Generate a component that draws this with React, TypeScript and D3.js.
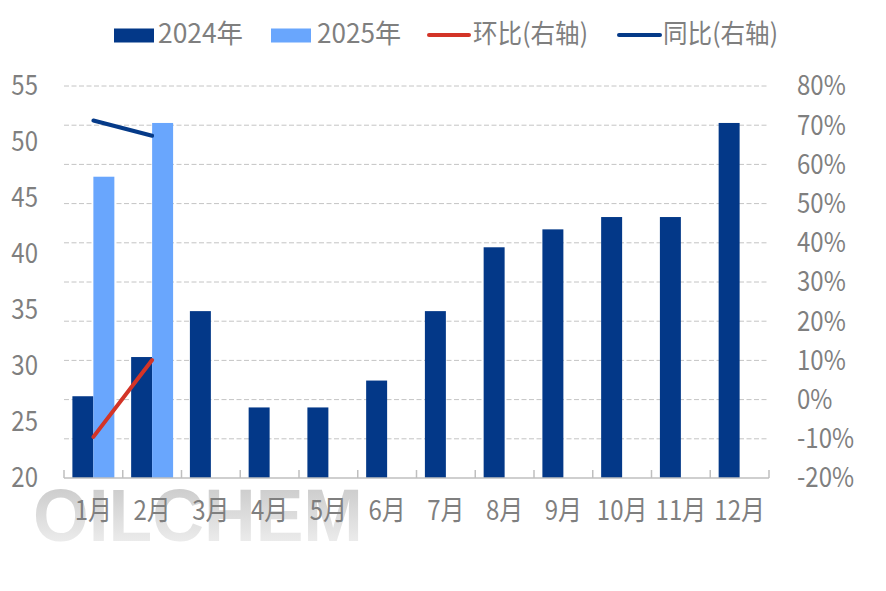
import React from "react";
import * as d3 from "d3";

const months = ["1月","2月","3月","4月","5月","6月","7月","8月","9月","10月","11月","12月"];
const v2024 = [27.3, 30.8, 34.9, 26.3, 26.3, 28.7, 34.9, 40.6, 42.2, 43.3, 43.3, 51.7];
const v2025 = [46.9, 51.7];
const mom = [-9.5, 10.1];
const yoy = [71.2, 67.3];
const leftTicks = [20, 25, 30, 35, 40, 45, 50, 55];
const rightTicks = [-20, -10, 0, 10, 20, 30, 40, 50, 60, 70, 80];
const legendLabels = ["2024年", "2025年", "环比(右轴)", "同比(右轴)"];

const C2024 = "#033888";
const C2025 = "#69a6fd";
const CRED = "#d33427";
const CBLUE = "#053a88";
const TXT = "#7f7f7f";
const FONT = "'Noto Sans CJK SC', 'Noto Sans', sans-serif";
const SY = 1.13;

function T(props: { x: number; y: number; anchor?: string; dy?: string; len?: number; fs?: number; sy?: number; children: React.ReactNode }) {
  return (
    <g transform={`translate(${props.x},${props.y}) scale(1,${props.sy ?? SY})`}>
      <text
        x={0}
        y={0}
        dy={props.dy}
        textAnchor={props.anchor || "start"}
        fontSize={props.fs ?? 24}
        fill={TXT}
        textLength={props.len}
        lengthAdjust={props.len ? "spacingAndGlyphs" : undefined}
      >
        {props.children}
      </text>
    </g>
  );
}

export default function App() {
  const W = 886, H = 591;
  const left = 64, right = 769, top = 86, bottom = 478;
  const x = d3.scaleBand<string>().domain(months).range([left, right]).padding(0);
  const inner = d3.scaleBand<string>().domain(["2024", "2025"]).range([0, x.bandwidth()]).paddingInner(0).paddingOuter(0.4);
  const yL = d3.scaleLinear().domain([20, 55]).range([bottom, top]);
  const yR = d3.scaleLinear().domain([-20, 80]).range([bottom, top]);
  const cx = (i: number) => (x(months[i]) as number) + x.bandwidth() / 2;
  const line = d3.line<number>().x((_, i) => cx(i)).y((d) => yR(d));
  const tickXs = months.map((m) => x(m) as number).concat([right]);

  return (
    <svg width={W} height={H} style={{ position: "absolute", left: 0, top: 0, background: "#fff" }} fontFamily={FONT}>
      <defs>
        <linearGradient id="wm" x1="0" y1="0" x2="0" y2="1">
          <stop offset="0" stopColor="#c4c4c4" />
          <stop offset="1" stopColor="#f4f4f4" />
        </linearGradient>
      </defs>
      {rightTicks.slice(1).map((t) => (
        <line key={t} x1={left} x2={right} y1={yR(t)} y2={yR(t)} stroke="#c4c4c4" strokeWidth={1} strokeDasharray="5,2.5" />
      ))}
      <text x={33} y={541} fontFamily="'Liberation Sans', Arial, sans-serif" fontWeight="bold" fontSize={75} fill="url(#wm)" textLength={330} lengthAdjust="spacingAndGlyphs">OILCHEM</text>
      {months.map((m, i) => (
        <rect key={"a" + m} x={(x(m) as number) + (inner("2024") as number)} width={inner.bandwidth()} y={yL(v2024[i])} height={bottom - yL(v2024[i])} fill={C2024} />
      ))}
      {v2025.map((v, i) => (
        <rect key={"b" + i} x={(x(months[i]) as number) + (inner("2025") as number)} width={inner.bandwidth()} y={yL(v)} height={bottom - yL(v)} fill={C2025} />
      ))}
      <line x1={left} x2={right} y1={bottom} y2={bottom} stroke="#bfbfbf" strokeWidth={1.5} />
      {tickXs.map((t, i) => (
        <line key={i} x1={t} x2={t} y1={bottom} y2={bottom - 8} stroke="#bfbfbf" strokeWidth={1.5} />
      ))}
      <path d={line(mom) as string} fill="none" stroke={CRED} strokeWidth={4} strokeLinecap="round" />
      <path d={line(yoy) as string} fill="none" stroke={CBLUE} strokeWidth={4} strokeLinecap="round" />
      {leftTicks.map((t) => (
        <T key={t} x={38} y={yL(t)} dy="0.35em" anchor="end">{t}</T>
      ))}
      {rightTicks.map((t) => (
        <T key={t} x={797} y={yR(t)} dy="0.35em">{t + "%"}</T>
      ))}
      {months.map((m, i) => (
        <T key={m} x={cx(i)} y={520} anchor="middle">{m}</T>
      ))}
      <rect x={114} y={28.5} width={40} height={14} fill={C2024} />
      <T x={158} y={43} len={85} fs={25} sy={1.06}>{legendLabels[0]}</T>
      <rect x={271} y={28.5} width={40} height={14} fill={C2025} />
      <T x={317} y={43} len={84} fs={25} sy={1.06}>{legendLabels[1]}</T>
      <line x1={429} x2={469} y1={35} y2={35} stroke={CRED} strokeWidth={4} strokeLinecap="round" />
      <T x={473} y={43} len={115} fs={25} sy={1.06}>{legendLabels[2]}</T>
      <line x1={619} x2={660} y1={35} y2={35} stroke={CBLUE} strokeWidth={4} strokeLinecap="round" />
      <T x={663} y={43} len={115} fs={25} sy={1.06}>{legendLabels[3]}</T>
    </svg>
  );
}
